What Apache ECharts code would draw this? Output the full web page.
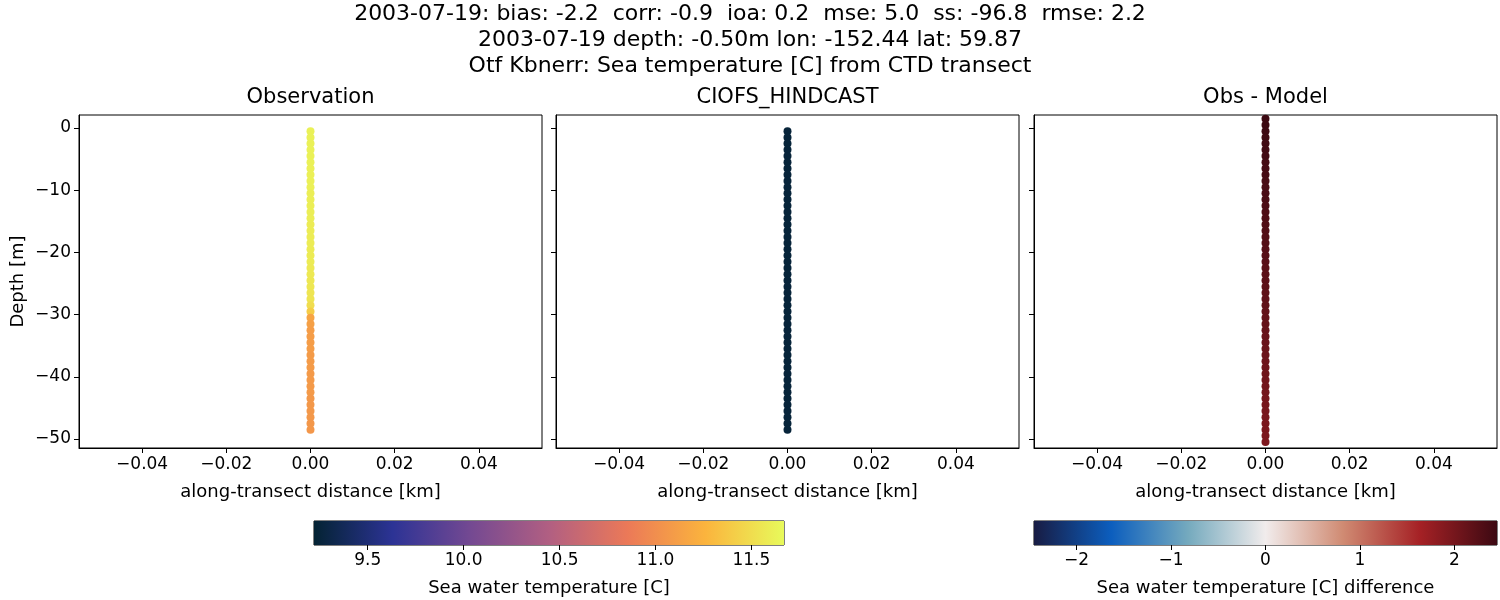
<!DOCTYPE html>
<html><head><meta charset="utf-8">
<script src="https://cdn.jsdelivr.net/npm/echarts@6/dist/echarts.min.js"></script>
<style>html,body{margin:0;background:#fff}#c{width:1500px;height:600px}</style>
</head><body><div id="c"></div>
<script>
var titles = ['2003-07-19: bias: -2.2  corr: -0.9  ioa: 0.2  mse: 5.0  ss: -96.8  rmse: 2.2',
  '2003-07-19 depth: -0.50m lon: -152.44 lat: 59.87',
  'Otf Kbnerr: Sea temperature [C] from CTD transect'];
var panelTitles = ['Observation', 'CIOFS_HINDCAST', 'Obs - Model'];
var obsDepth = [-0.5,-1.5,-2.5,-3.5,-4.5,-5.5,-6.5,-7.5,-8.5,-9.5,-10.5,-11.5,-12.5,-13.5,-14.5,-15.5,-16.5,-17.5,-18.5,-19.5,-20.5,-21.5,-22.5,-23.5,-24.5,-25.5,-26.5,-27.5,-28.5,-29.5,-30.5,-31.5,-32.5,-33.5,-34.5,-35.5,-36.5,-37.5,-38.5,-39.5,-40.5,-41.5,-42.5,-43.5,-44.5,-45.5,-46.5,-47.5,-48.5];
var obsTemp = [11.62,11.62,11.62,11.62,11.62,11.62,11.61,11.61,11.61,11.61,11.6,11.6,11.6,11.6,11.6,11.59,11.59,11.59,11.59,11.58,11.58,11.58,11.57,11.57,11.56,11.56,11.55,11.54,11.5,11.4,11.15,11.12,11.1,11.1,11.1,11.1,11.09,11.09,11.09,11.08,11.08,11.08,11.08,11.07,11.07,11.07,11.07,11.06,11.06];
var modelTemp = [9.25,9.25,9.25,9.25,9.25,9.25,9.25,9.25,9.25,9.25,9.25,9.25,9.25,9.25,9.25,9.25,9.25,9.25,9.25,9.25,9.25,9.25,9.25,9.25,9.25,9.25,9.25,9.25,9.25,9.25,9.25,9.25,9.25,9.25,9.25,9.25,9.25,9.25,9.25,9.25,9.25,9.25,9.25,9.25,9.25,9.25,9.25,9.25,9.25];
var diffDepth = [1.5,0.5,-0.5,-1.5,-2.5,-3.5,-4.5,-5.5,-6.5,-7.5,-8.5,-9.5,-10.5,-11.5,-12.5,-13.5,-14.5,-15.5,-16.5,-17.5,-18.5,-19.5,-20.5,-21.5,-22.5,-23.5,-24.5,-25.5,-26.5,-27.5,-28.5,-29.5,-30.5,-31.5,-32.5,-33.5,-34.5,-35.5,-36.5,-37.5,-38.5,-39.5,-40.5,-41.5,-42.5,-43.5,-44.5,-45.5,-46.5,-47.5,-48.5,-49.5,-50.5];
var diffVal = [2.45,2.45,2.44,2.43,2.42,2.41,2.4,2.39,2.38,2.37,2.36,2.35,2.34,2.33,2.32,2.31,2.3,2.29,2.28,2.27,2.26,2.25,2.24,2.23,2.22,2.21,2.2,2.19,2.18,2.17,2.16,2.15,2.14,2.13,2.12,2.11,2.1,2.09,2.08,2.07,2.06,2.05,2.04,2.03,2.02,2.01,2.0,1.99,1.98,1.97,1.96,1.95,1.94];
var yTicks = [0,-10,-20,-30,-40,-50];
var xTicks = [-0.04,-0.02,0,0.02,0.04];
var tempRange = [9.22, 11.67], tempTicks = [9.5,10.0,10.5,11.0,11.5];
var diffRange = [-2.45, 2.45], diffTicks = [-2,-1,0,1,2];
var thermal = ['#042333','#2c3395','#744992','#b15f82','#eb7958','#fbb43d','#e8fa5b'];
var balance = ['#181c43','#0c5ebe','#75aabe','#f1ecec','#d08b73','#a52125','#3c0912'];

var F = 'DejaVu Sans';
function fmt(v){ return (v<0?'\u2212':'') + Math.abs(v); }
function fmt2(v){ return (v<0?'\u2212':'') + Math.abs(v).toFixed(2); }
var lefts = [79, 556, 1034];
var grids = [], xAxes = [], yAxes = [], series = [];
lefts.forEach(function(l, i){
  grids.push({left: l, width: 463, top: 115, height: 333, show: true, borderColor: '#000', borderWidth: 1});
  xAxes.push({gridIndex: i, type: 'value', min: -0.055, max: 0.055, interval: 0.02,
    name: 'along-transect distance [km]', nameLocation: 'middle', nameGap: 35,
    nameTextStyle: {fontFamily: F, fontSize: 18, color: '#000'},
    axisLine: {show: true, onZero: false, lineStyle: {color: '#000'}},
    axisTick: {show: true, length: 5, lineStyle: {color: '#000'}, customValues: xTicks},
    axisLabel: {fontFamily: F, fontSize: 17, color: '#000', margin: 8, formatter: fmt2, customValues: xTicks},
    splitLine: {show: false}});
  yAxes.push({gridIndex: i, type: 'value', min: -51.45, max: 2.1,
    name: i === 0 ? 'Depth [m]' : '', nameLocation: 'middle', nameGap: 52,
    nameTextStyle: {fontFamily: F, fontSize: 18, color: '#000'},
    axisLine: {show: true, onZero: false, lineStyle: {color: '#000'}},
    axisTick: {show: true, length: 5, lineStyle: {color: '#000'}, customValues: yTicks},
    axisLabel: {show: i === 0, fontFamily: F, fontSize: 17, color: '#000', margin: 8, formatter: fmt, customValues: yTicks},
    splitLine: {show: false}});
});
function pts(d, v){ return d.map(function(y, k){ return [0, y, v[k]]; }); }
var sStyle = {opacity: 1};
series.push({type: 'scatter', xAxisIndex: 0, yAxisIndex: 0, symbolSize: 8, itemStyle: sStyle, data: pts(obsDepth, obsTemp)});
series.push({type: 'scatter', xAxisIndex: 1, yAxisIndex: 1, symbolSize: 8, itemStyle: sStyle, data: pts(obsDepth, modelTemp)});
series.push({type: 'scatter', xAxisIndex: 2, yAxisIndex: 2, symbolSize: 8, itemStyle: sStyle, data: pts(diffDepth, diffVal)});

// colorbars
function gradStops(c){ return c.map(function(col, k){ return {offset: k/(c.length-1), color: col}; }); }
var bars = [{left: 314, width: 470, range: tempRange, ticks: tempTicks, cols: thermal, name: 'Sea water temperature [C]', f: function(v){return v.toFixed(1);}},
            {left: 1034, width: 463, range: diffRange, ticks: diffTicks, cols: balance, name: 'Sea water temperature [C] difference', f: fmt}];
bars.forEach(function(b, j){
  var gi = 3 + j;
  grids.push({left: b.left, width: b.width, top: 521, height: 24, show: true, borderColor: '#000', borderWidth: 1});
  xAxes.push({gridIndex: gi, type: 'value', min: b.range[0], max: b.range[1],
    name: b.name, nameLocation: 'middle', nameGap: 34,
    nameTextStyle: {fontFamily: F, fontSize: 18, color: '#000'},
    axisLine: {show: false}, axisTick: {show: true, length: 5, lineStyle: {color: '#000'}, customValues: b.ticks},
    axisLabel: {fontFamily: F, fontSize: 17, color: '#000', margin: 7, formatter: b.f, customValues: b.ticks},
    splitLine: {show: false}});
  yAxes.push({gridIndex: gi, type: 'value', min: 0, max: 1, show: false});
  series.push({type: 'custom', xAxisIndex: gi, yAxisIndex: gi, silent: true, z: 1,
    data: [[b.range[0], 0, b.range[1], 1]],
    renderItem: function(params, api){
      var p0 = api.coord([api.value(0), api.value(1)]), p1 = api.coord([api.value(2), api.value(3)]);
      return {type: 'rect', shape: {x: p0[0], y: p1[1], width: p1[0]-p0[0], height: p0[1]-p1[1]},
        style: {fill: new echarts.graphic.LinearGradient(0,0,1,0, gradStops(b.cols))}};
    }});
});

var tEls = titles.map(function(t, k){
  return {type: 'text', left: 'center', top: 3 + k*26, style: {text: t, font: '22px "' + F + '"', fill: '#000'}};
});
panelTitles.forEach(function(t, i){
  tEls.push({type: 'text', x: lefts[i] + 231.5, y: 87, style: {text: t, font: '21px "' + F + '"', fill: '#000', align: 'center'}});
});

var chart = echarts.init(document.getElementById('c'));
chart.setOption({
  animation: false,
  grid: grids, xAxis: xAxes, yAxis: yAxes, series: series,
  graphic: tEls,
  visualMap: [
    {show: false, seriesIndex: [0,1], dimension: 2, min: tempRange[0], max: tempRange[1], inRange: {color: thermal, opacity: 1}},
    {show: false, seriesIndex: 2, dimension: 2, min: diffRange[0], max: diffRange[1], inRange: {color: balance, opacity: 1}}
  ]
});
</script></body></html>
